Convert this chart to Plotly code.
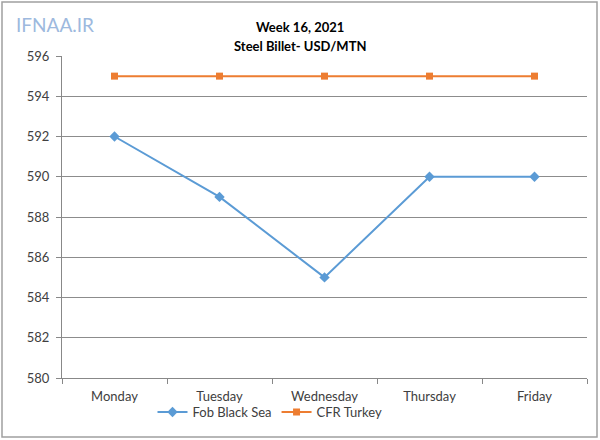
import plotly.graph_objects as go

days = ["Monday", "Tuesday", "Wednesday", "Thursday", "Friday"]
fob_black_sea = [592, 589, 585, 590, 590]
cfr_turkey = [595, 595, 595, 595, 595]
y_ticks = [580, 582, 584, 586, 588, 590, 592, 594, 596]

fig = go.Figure()
fig.add_trace(go.Scatter(x=days, y=fob_black_sea, name="Fob Black Sea", mode="lines+markers",
                         line=dict(color="#5B9BD5", width=2),
                         marker=dict(symbol="diamond", size=8, color="#5B9BD5")))
fig.add_trace(go.Scatter(x=days, y=cfr_turkey, name="CFR Turkey", mode="lines+markers",
                         line=dict(color="#ED7D31", width=2),
                         marker=dict(symbol="square", size=7, color="#ED7D31")))

W, H = 600, 440
l, r, t, b = 62, 13, 56, 62
pw, ph = W - l - r, H - t - b

def px(x):
    return (x - l) / pw

def py(y):
    return (H - b - y) / ph

fig.update_layout(
    width=W, height=H,
    margin=dict(l=l, r=r, t=t, b=b),
    paper_bgcolor="white", plot_bgcolor="white",
    font=dict(family="Lato, 'Open Sans', sans-serif", size=13, color="#404040"),
    showlegend=True,
    legend=dict(orientation="h", x=px(270), xanchor="center", y=py(412), yanchor="middle",
                bgcolor="rgba(0,0,0,0)",
                font=dict(size=13, color="#404040"), itemwidth=30, tracegroupgap=0),
    xaxis=dict(type="category", range=[-0.5, 4.5], showgrid=False, showline=True,
               linecolor="#888888", linewidth=1, ticks="outside", tickson="boundaries",
               ticklen=5, tickcolor="#888888", ticklabelstandoff=6,
               tickfont=dict(size=13, color="#404040")),
    yaxis=dict(range=[580, 596], tickvals=y_ticks, showgrid=True, gridcolor="#8c8c8c",
               gridwidth=1, showline=True, linecolor="#888888", linewidth=1,
               ticks="outside", ticklen=5, tickcolor="#888888", zeroline=False,
               ticklabelstandoff=4, tickfont=dict(size=13, color="#404040")),
    annotations=[
        dict(text="<b>Week 16, 2021</b>", x=px(300), y=py(27), xref="paper", yref="paper",
             showarrow=False, font=dict(size=13, color="#000000"), xanchor="center", yanchor="middle"),
        dict(text="<b>Steel Billet- USD/MTN</b>", x=px(300), y=py(46), xref="paper", yref="paper",
             showarrow=False, font=dict(size=13, color="#000000"), xanchor="center", yanchor="middle"),
        dict(text="IFNAA.IR", x=px(14), y=py(24), xref="paper", yref="paper",
             showarrow=False, font=dict(size=19, color="#9DB9DE"), xanchor="left", yanchor="middle"),
    ],
    shapes=[dict(type="rect", xref="paper", yref="paper", x0=px(2), x1=px(597), y0=py(437), y1=py(2),
                 line=dict(color="#A0A0A0", width=1.5), layer="below")],
)

fig.write_html("out.html")
